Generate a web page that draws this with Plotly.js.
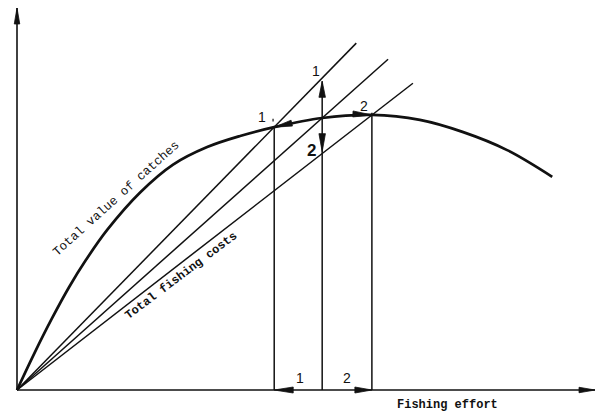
<!DOCTYPE html>
<html>
<head>
<meta charset="utf-8">
<script src="https://cdn.plot.ly/plotly-3.0.1.min.js"></script>
<style>html,body{margin:0;padding:0;background:#fff;}#chart{width:600px;height:418px;}</style>
</head>
<body>
<div id="chart"></div>
<script>
// ---- data (effort and value in arbitrary units 0-100) ----
const effortCurve = [0, 3, 6, 9, 12, 15.6, 21.3, 27.0, 32.9, 38.6, 44.5, 52.8, 61.4, 69.7, 77.2, 84.8, 92.6];
const valueCurve  = [0, 9.6, 18.6, 26.9, 34.2, 41.9, 51.7, 59.0, 63.6, 66.5, 68.8, 71.2, 72.0, 70.7, 67.5, 62.8, 55.8];

// three total-cost lines from the origin: end points
const costEndEffort = [58.7, 64.2, 68.5];
const costEndValue  = [90.8, 86.6, 80.3];

// equilibrium efforts: point 1, middle, point 2 and their values on the catch curve
const effortLevels = [44.5, 52.8, 61.4];
const valueLevels  = [68.8, 71.2, 72.0];
// vertical arrow tips at the middle effort (up to cost line 1, down to cost line 3)
const arrowTipValues = [80.8, 62.4];

// axis extents (the drawn axes, both with arrowheads)
const axisEffortMax = 100;
const axisValueMax = 100;

const pointLabels = ["1", "1", "2", "2", "1", "2"];
const axisTitle = "Fishing effort";
const curveLabel = "Total value of catches";
const costLabel = "Total fishing costs";

// ---- build traces ----
const ink = '#111';
const traces = [];
// axes
traces.push({x: [0, 0], y: [0, axisValueMax], mode: 'lines', line: {color: ink, width: 1.6}, hoverinfo: 'skip'});
traces.push({x: [0, axisEffortMax], y: [0, 0], mode: 'lines', line: {color: ink, width: 1.6}, hoverinfo: 'skip'});
// catch curve
traces.push({x: effortCurve, y: valueCurve, mode: 'lines', line: {color: ink, width: 2.7, shape: 'spline', smoothing: 1}, hoverinfo: 'skip'});
// cost lines
for (let i = 0; i < costEndEffort.length; i++) {
  traces.push({x: [0, costEndEffort[i]], y: [0, costEndValue[i]], mode: 'lines', line: {color: ink, width: 1.5}, hoverinfo: 'skip'});
}
// vertical drop lines
traces.push({x: [effortLevels[0], effortLevels[0]], y: [0, valueLevels[0]], mode: 'lines', line: {color: ink, width: 1.5}, hoverinfo: 'skip'});
traces.push({x: [effortLevels[1], effortLevels[1]], y: [0, arrowTipValues[0]], mode: 'lines', line: {color: ink, width: 1.5}, hoverinfo: 'skip'});
traces.push({x: [effortLevels[2], effortLevels[2]], y: [0, valueLevels[2] + 0.6], mode: 'lines', line: {color: ink, width: 1.5}, hoverinfo: 'skip'});
// small tick above point 1
traces.push({x: [effortLevels[0] - 0.2, effortLevels[0] - 0.2], y: [valueLevels[0] + 1.5, valueLevels[0] + 2.2], mode: 'lines', line: {color: ink, width: 1.2}, hoverinfo: 'skip'});

// ---- arrowheads as pixel-sized triangles anchored at data points ----
function head(x, y, angleDeg, len, w) {
  const a = angleDeg * Math.PI / 180;
  const ux = Math.cos(a), uy = Math.sin(a);
  const bx = -len * ux, by = -len * uy;
  const px = -uy * w / 2, py = ux * w / 2;
  const f = v => v.toFixed(2);
  return {
    type: 'path', xref: 'x', yref: 'y', xsizemode: 'pixel', ysizemode: 'pixel',
    xanchor: x, yanchor: y,
    path: `M0,0 L${f(bx + px)},${f(by + py)} L${f(bx - px)},${f(by - py)} Z`,
    fillcolor: ink, line: {color: ink, width: 0.8}, layer: 'above'
  };
}
const shapes = [
  head(0, axisValueMax, 90, 16, 5.5),                 // y axis
  head(axisEffortMax, 0, 0, 16, 5.5),                 // x axis
  head(effortLevels[0], 0, 180, 19, 6),               // bottom arrow 1
  head(effortLevels[2], 0, 0, 17, 6),                 // bottom arrow 2
  head(effortLevels[1], arrowTipValues[0], 90, 16, 6.5),   // up arrow
  head(effortLevels[1], arrowTipValues[1], -90, 18, 6.5),  // down arrow
  head(effortLevels[0], valueLevels[0], 193, 18, 6),       // along curve to 1
  head(effortLevels[2], valueLevels[2], -3, 19, 6)         // along curve to 2
];

const numFont = {family: 'Liberation Sans, DejaVu Sans, sans-serif', size: 14, color: ink};
const boldNum = {family: 'Liberation Sans, DejaVu Sans, sans-serif', size: 17, color: ink, weight: 'bold'};
const monoFont = {family: 'Liberation Mono, DejaVu Sans Mono, monospace', size: 12, color: ink};
const monoBig = {family: 'Liberation Mono, DejaVu Sans Mono, monospace', size: 12.5, color: ink};
const annotations = [
  {x: 42.4, y: 71.4, text: pointLabels[0], font: numFont},
  {x: 51.8, y: 83.4, text: pointLabels[1], font: numFont},
  {x: 60.0, y: 74.4, text: pointLabels[2], font: numFont},
  {x: 50.9, y: 62.6, text: '<b>' + pointLabels[3] + '</b>', font: boldNum},
  {x: 49.0, y: 3.2, text: pointLabels[4], font: numFont},
  {x: 57.1, y: 3.2, text: pointLabels[5], font: numFont},
  {x: 74.4, y: -3.8, text: '<b>' + axisTitle + '</b>', font: monoFont},
  {x: 17.2, y: 50.0, text: curveLabel, font: monoBig, textangle: -42},
  {x: 28.4, y: 29.8, text: '<b>' + costLabel + '</b>', font: monoFont, textangle: -37}
].map(a => Object.assign({xref: 'x', yref: 'y', showarrow: false, xanchor: 'center', yanchor: 'middle'}, a));

// plot area = whole figure; origin at pixel (17, 390), effort 100 at x=595, value 100 at y=8
const axisCommon = {showgrid: false, zeroline: false, showticklabels: false, ticks: '',
  showline: false, fixedrange: true};
const layout = {
  width: 600, height: 418,
  margin: {l: 0, r: 0, t: 0, b: 0},
  paper_bgcolor: '#fff', plot_bgcolor: '#fff',
  showlegend: false,
  xaxis: Object.assign({range: [-17 / 5.78, 583 / 5.78]}, axisCommon),
  yaxis: Object.assign({range: [-28 / 3.82, 390 / 3.82]}, axisCommon),
  shapes: shapes,
  annotations: annotations
};
Plotly.newPlot('chart', traces, layout, {displayModeBar: false, staticPlot: true});
</script>
</body>
</html>
